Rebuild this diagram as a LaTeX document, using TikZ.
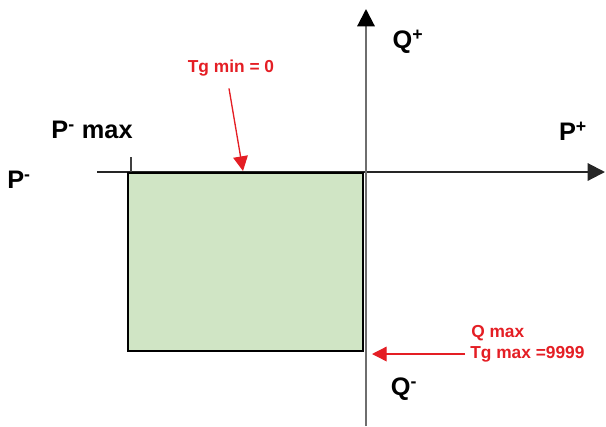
\documentclass[tikz,border=0pt]{standalone}
\usepackage{fontspec}
\setmainfont{Liberation Sans}
\usetikzlibrary{arrows.meta}

\definecolor{areagreen}{RGB}{208,229,197}
\definecolor{markred}{RGB}{228,30,36}
\definecolor{axisgray}{RGB}{110,110,110}

\begin{document}
\begin{tikzpicture}[x=0.75pt,y=0.75pt,yscale=-1,xscale=1,
  axis/.style={line width=1.6pt,-{Triangle[length=13pt,width=13pt]}},
  redarrow/.style={color=markred,line width=1pt,-{Triangle[length=11pt,width=11pt]}},
  axislabel/.style={font=\fontsize{19}{22}\selectfont\bfseries,inner sep=0pt},
  redlabel/.style={font=\fontsize{13}{15}\selectfont\bfseries,text=markred,inner sep=0pt}]
\useasboundingbox (0,0) rectangle (606,426);

%Shape: Rectangle
\fill [areagreen] (128,173) rectangle (363,351);

%Axes
\coordinate (pneg) at (97,172);
\coordinate (ppos) at (605,172);
\coordinate (qneg) at (366,426);
\coordinate (qpos) at (366,9);
\draw [axis,color=black!85] (pneg) -- (ppos);
\draw [axis,color=axisgray,-{Triangle[length=13pt,width=13pt,color=black]}] (qneg) -- (qpos);

%Shape: Rectangle border
\draw [line width=1.7pt] (363,173) -- (128,173) -- (128,351) -- (363,351) -- cycle ;
%Straight Lines (tick)
\draw [line width=1.1pt,color=black!75] (131,157) -- (131,172) ;

% Text Node
\node [axislabel] (pminus) at (19,180) {P\textsuperscript{-}};
% Text Node
\node [axislabel] (pminmax) at (92,130) {P\textsuperscript{-} max};
% Text Node
\node [axislabel] (pplus) at (573,131) {P\textsuperscript{+}};
% Text Node
\node [axislabel] (qplus) at (408,42) {Q\textsuperscript{+}};
% Text Node
\node [axislabel] (qminus) at (404,389) {Q\textsuperscript{-}};

% Text Node
\node [redlabel] (tgmin) at (231,68) {Tg min = 0};
\coordinate (tgmintip) at (243,171);
\draw [redarrow] (tgmin.south) ++(-2,12) -- (tgmintip) ;

% Text Node
\node [redlabel,anchor=west] (qmax) at (471,333) {Q max};
% Text Node
\node [redlabel,anchor=west] (tgmax) at (470,354) {Tg max =9999};
\coordinate (qmaxtip) at (372,354);
\draw [redarrow] (tgmax.west) ++(-5,0) -- (qmaxtip) ;

\end{tikzpicture}
\end{document}
